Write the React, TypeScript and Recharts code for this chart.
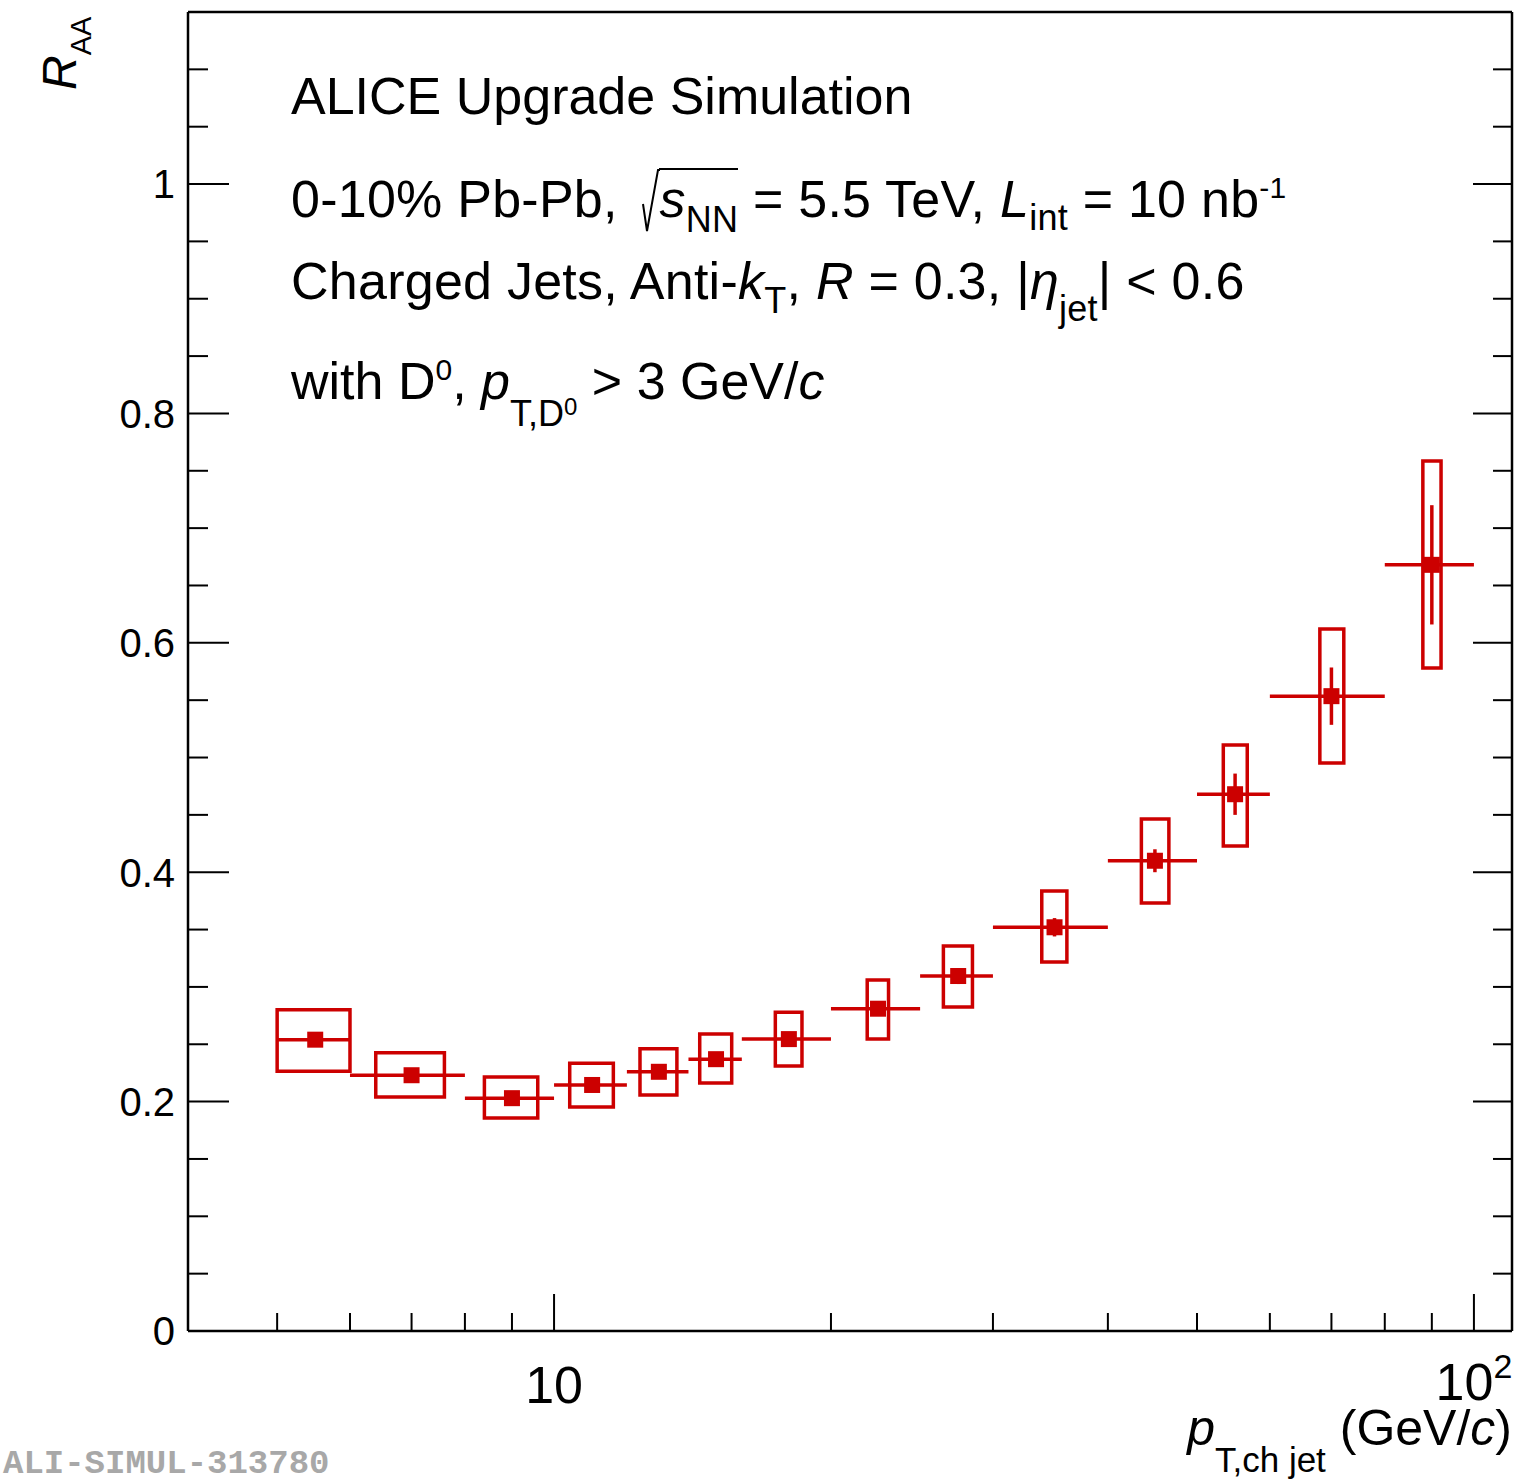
import React from "react";
import { ComposedChart, Scatter, XAxis, YAxis, ErrorBar, ReferenceArea } from "recharts";

// bins of p_T,ch jet (GeV/c)
const ptCenter = [5.5, 7, 9, 11, 13, 15, 18, 22.5, 27.5, 35, 45, 55, 70, 90];
const ptLow = [5, 6, 8, 10, 12, 14, 16, 20, 25, 30, 40, 50, 60, 80];
const ptHigh = [6, 8, 10, 12, 14, 16, 20, 25, 30, 40, 50, 60, 80, 100];
// R_AA with stat errors
const raa = [0.254, 0.223, 0.203, 0.2145, 0.226, 0.237, 0.2545, 0.281, 0.3095, 0.352, 0.41, 0.468, 0.5535, 0.668];
const statErr = [0.004, 0.004, 0.004, 0.004, 0.005, 0.005, 0.005, 0.006, 0.007, 0.008, 0.01, 0.018, 0.025, 0.052];
// systematic boxes
const sysHigh = [0.28, 0.2425, 0.2215, 0.2335, 0.246, 0.259, 0.278, 0.306, 0.3357, 0.3836, 0.4464, 0.511, 0.612, 0.7585];
const sysLow = [0.2265, 0.204, 0.1857, 0.1953, 0.2058, 0.2162, 0.231, 0.2546, 0.2825, 0.3217, 0.3731, 0.4228, 0.4952, 0.578];
const boxLeft = [5.0, 6.4, 8.4, 10.4, 12.4, 14.4, 17.4, 21.9, 26.5, 33.9, 43.5, 53.4, 68, 88];
const boxRight = [6.0, 7.6, 9.6, 11.6, 13.6, 15.6, 18.6, 23.1, 28.5, 36.1, 46.6, 56.7, 72.2, 92.1];

const xTicks = [5, 6, 7, 8, 9, 10, 20, 30, 40, 50, 60, 70, 80, 90, 100];
const xMajor = [10, 100];
const yTicks = [0, 0.05, 0.1, 0.15, 0.2, 0.25, 0.3, 0.35, 0.4, 0.45, 0.5, 0.55, 0.6, 0.65, 0.7, 0.75, 0.8, 0.85, 0.9, 0.95, 1, 1.05, 1.1];
const yMajor = [0, 0.2, 0.4, 0.6, 0.8, 1];
const yMajorLabels = ["0", "0.2", "0.4", "0.6", "0.8", "1"];

const RED = "#cc0000";
const FONT = '"Liberation Sans", Arial, Helvetica, sans-serif';

const rows = ptCenter.map((x, i) => ({
  x,
  y: raa[i],
  ex: [x - ptLow[i], ptHigh[i] - x],
  ey: statErr[i],
}));

const isYMajor = (v: number) => yMajor.findIndex((m) => Math.abs(m - v) < 1e-6);

function BottomTick(props: any) {
  const { x, y, payload } = props;
  const v = payload.value;
  const major = xMajor.includes(v);
  return (
    <g>
      <line x1={x} x2={x} y1={y} y2={y - (major ? 37 : 18)} stroke="#000" strokeWidth={2} />
      {v === 10 && (
        <text x={x} y={y + 72} textAnchor="middle" fontSize={52} fontFamily={FONT} fill="#000">10</text>
      )}
      {v === 100 && (
        <text x={x} y={y + 69} textAnchor="middle" fontSize={52} fontFamily={FONT} fill="#000">
          10<tspan dy={-22} fontSize={34}>2</tspan>
        </text>
      )}
    </g>
  );
}

function TopTick(props: any) {
  const { x, y, payload } = props;
  const major = xMajor.includes(payload.value);
  return <line x1={x} x2={x} y1={y} y2={y + (major ? 37 : 18)} stroke="#000" strokeWidth={2} />;
}

function LeftTick(props: any) {
  const { x, y, payload } = props;
  const idx = isYMajor(payload.value);
  return (
    <g>
      <line x1={x} x2={x + (idx >= 0 ? 41 : 20)} y1={y} y2={y} stroke="#000" strokeWidth={2} />
      {idx >= 0 && (
        <text x={x - 13} y={y} dy="0.36em" textAnchor="end" fontSize={40} fontFamily={FONT} fill="#000">
          {yMajorLabels[idx]}
        </text>
      )}
    </g>
  );
}

function RightTick(props: any) {
  const { x, y, payload } = props;
  const major = isYMajor(payload.value) >= 0;
  return <line x1={x} x2={x - (major ? 39 : 19)} y1={y} y2={y} stroke="#000" strokeWidth={2} />;
}

const Marker = (p: any) => <rect x={p.cx - 8} y={p.cy - 8} width={16} height={16} fill={RED} />;

const line: React.CSSProperties = {
  position: "absolute",
  left: 291,
  fontSize: 52,
  lineHeight: 1,
  whiteSpace: "nowrap",
  color: "#000",
};
const sub = (top: number, size = 36): React.CSSProperties => ({ fontSize: size, position: "relative", top, lineHeight: 1 });

export default function App() {
  return (
    <div style={{ position: "absolute", left: 0, top: 0, width: 1526, height: 1481, background: "#fff", fontFamily: FONT }}>
      <ComposedChart width={1526} height={1481} data={rows} margin={{ top: 11, right: 13, bottom: 90, left: 88 }}>
        <XAxis
          xAxisId="b"
          dataKey="x"
          type="number"
          scale="log"
          domain={[4, 110]}
          allowDataOverflow
          ticks={xTicks}
          interval={0}
          height={60}
          tickSize={0}
          tickMargin={0}
          tickLine={false}
          axisLine={{ stroke: "#000", strokeWidth: 2.5 }}
          tick={<BottomTick />}
        />
        <XAxis
          xAxisId="t"
          orientation="top"
          type="number"
          scale="log"
          domain={[4, 110]}
          allowDataOverflow
          ticks={xTicks}
          interval={0}
          height={1}
          tickSize={0}
          tickMargin={0}
          tickLine={false}
          axisLine={{ stroke: "#000", strokeWidth: 2.5 }}
          tick={<TopTick />}
        />
        <YAxis
          yAxisId="l"
          dataKey="y"
          type="number"
          domain={[0, 1.15]}
          allowDataOverflow
          ticks={yTicks}
          interval={0}
          width={100}
          tickSize={0}
          tickMargin={0}
          tickLine={false}
          axisLine={{ stroke: "#000", strokeWidth: 2.5 }}
          tick={<LeftTick />}
        />
        <YAxis
          yAxisId="r"
          orientation="right"
          type="number"
          domain={[0, 1.15]}
          allowDataOverflow
          ticks={yTicks}
          interval={0}
          width={1}
          tickSize={0}
          tickMargin={0}
          tickLine={false}
          axisLine={{ stroke: "#000", strokeWidth: 2.5 }}
          tick={<RightTick />}
        />
        {ptCenter.map((_, i) => (
          <ReferenceArea
            key={i}
            xAxisId="b"
            yAxisId="l"
            x1={boxLeft[i]}
            x2={boxRight[i]}
            y1={sysLow[i]}
            y2={sysHigh[i]}
            fill="none"
            stroke={RED}
            strokeWidth={3.5}
            ifOverflow="visible"
          />
        ))}
        <Scatter xAxisId="b" yAxisId="l" data={rows} dataKey="y" fill={RED} shape={Marker} isAnimationActive={false}>
          <ErrorBar dataKey="ex" direction="x" width={0} stroke={RED} strokeWidth={3.5} isAnimationActive={false} />
          <ErrorBar dataKey="ey" direction="y" width={0} stroke={RED} strokeWidth={3.5} isAnimationActive={false} />
        </Scatter>
      </ComposedChart>

      {/* y axis title */}
      <div
        style={{
          position: "absolute",
          left: 36,
          top: 90,
          transform: "rotate(-90deg)",
          transformOrigin: "0 0",
          fontSize: 48,
          lineHeight: 1,
          whiteSpace: "nowrap",
        }}
      >
        <i>R</i>
        <span style={sub(15, 29)}>AA</span>
      </div>

      {/* legend text */}
      <div style={{ ...line, top: 70 }}>ALICE Upgrade Simulation</div>
      <div style={{ ...line, top: 173, letterSpacing: 0.25 }}>
        0-10% Pb-Pb,{" "}
        <span style={{ position: "relative", paddingLeft: 17, marginLeft: 10 }}>
          <svg width={18} height={64} style={{ position: "absolute", left: 0, top: -2, overflow: "visible" }}>
            <path d="M1 36 L5 63 L16 2 L18 2" fill="none" stroke="#000" strokeWidth={2} />
          </svg>
          <span style={{ borderTop: "2px solid #000" }}>
            <i>s</i>
            <span style={sub(15)}>NN</span>
          </span>
        </span>
        {" "}= 5.5 TeV, <i>L</i>
        <span style={sub(13)}>int</span> = 10 nb<span style={sub(-19, 30)}>-1</span>
      </div>
      <div style={{ ...line, top: 255, letterSpacing: 0.25 }}>
        Charged Jets, Anti-<i>k</i>
        <span style={sub(14)}>T</span>, <i>R</i> = 0.3, |<i>η</i>
        <span style={sub(22)}>jet</span>| &lt; 0.6
      </div>
      <div style={{ ...line, top: 355 }}>
        with D<span style={sub(-19, 30)}>0</span>, <i>p</i>
        <span style={sub(27)}>
          T,D<span style={sub(-11, 24)}>0</span>
        </span>{" "}
        &gt; 3 GeV/<i>c</i>
      </div>

      {/* x axis title */}
      <div style={{ position: "absolute", right: 14, top: 1403, fontSize: 50, lineHeight: 1, whiteSpace: "nowrap" }}>
        <i>p</i>
        <span style={sub(27, 35)}>T,ch jet</span> (GeV/<i>c</i>)
      </div>

      {/* watermark */}
      <div
        style={{
          position: "absolute",
          left: 3,
          top: 1447,
          fontFamily: '"Liberation Mono", "Courier New", monospace',
          fontWeight: "bold",
          fontSize: 34,
          lineHeight: 1,
          color: "#a8a8a8",
          whiteSpace: "nowrap",
        }}
      >
        ALI-SIMUL-313780
      </div>
    </div>
  );
}
